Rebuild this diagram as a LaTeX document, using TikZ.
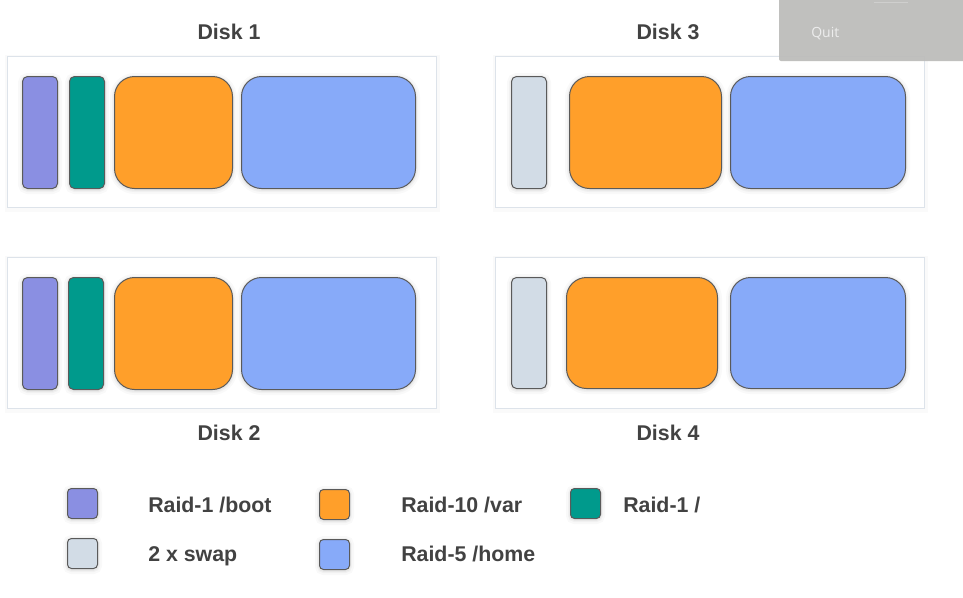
\documentclass[tikz,border=0pt]{standalone}
\usepackage{fontspec}
\setmainfont{Liberation Sans}
\newfontfamily\quitfont{Open Sans}
\newdimen\pxu \pxu=0.75pt
\definecolor{bootc}{HTML}{8A8FE2}
\definecolor{rootc}{HTML}{009A8C}
\definecolor{varc}{HTML}{FF9F2A}
\definecolor{homec}{HTML}{87AAF9}
\definecolor{swapc}{HTML}{D2DCE6}
\definecolor{edgec}{HTML}{5A5A5A}
\definecolor{framec}{HTML}{DDE3EA}
\definecolor{txtc}{HTML}{424242}
\definecolor{quitc}{HTML}{BCBCBA}
\tikzset{
  % soft halo drawn under a shape, a few widening faint strokes
  softshadow/.style={
    preaction={draw=black, draw opacity=0.025, line width=9\pxu, transform canvas={yshift=-1\pxu}},
    preaction={draw=black, draw opacity=0.03, line width=5\pxu, transform canvas={yshift=-1\pxu}},
    preaction={draw=black, draw opacity=0.035, line width=2.5\pxu, transform canvas={yshift=-1\pxu}}},
  part/.style={draw=edgec, line width=1\pxu, anchor=north west, inner sep=0pt, softshadow},
  slim/.style={part, rounded corners=5\pxu, minimum width=35\pxu, minimum height=112\pxu},
  wide/.style={part, rounded corners=20\pxu, minimum height=112\pxu},
  diskframe/.style={draw=framec, fill=white, line width=1\pxu, anchor=north west,
    inner sep=0pt, minimum width=429\pxu, minimum height=151\pxu,
    preaction={draw=black, draw opacity=0.02, line width=6\pxu, transform canvas={yshift=-1\pxu}}},
  disktitle/.style={anchor=base, inner sep=0pt, font=\bfseries\fontsize{16}{19}\selectfont, text=txtc},
  swatch/.style={part, rounded corners=4\pxu, minimum size=30\pxu},
  legendtext/.style={anchor=base west, inner sep=0pt, font=\bfseries\fontsize{16}{19}\selectfont, text=txtc},
}
\begin{document}
\begin{tikzpicture}[x=\pxu, y=-\pxu]
  \useasboundingbox (0,0) rectangle (963,597);
  \fill[white] (0,0) rectangle (963,597);

  % Disk 1
  \node[disktitle] (t1) at (229,39) {Disk 1};
  \node[diskframe] (d1) at (7,56) {};
  \node[slim, fill=bootc] (d1boot) at (22,76) {};
  \node[slim, fill=rootc] (d1root) at (69,76) {};
  \node[wide, fill=varc, minimum width=118\pxu] (d1var) at (114,76) {};
  \node[wide, fill=homec, minimum width=174\pxu] (d1home) at (241,76) {};

  % Disk 3
  \node[disktitle] (t3) at (668,39) {Disk 3};
  \node[diskframe] (d3) at (495,56) {};
  \node[slim, fill=swapc] (d3swap) at (511,76) {};
  \node[wide, fill=varc, minimum width=152\pxu] (d3var) at (569,76) {};
  \node[wide, fill=homec, minimum width=175\pxu] (d3home) at (730,76) {};

  % Disk 2
  \node[diskframe] (d2) at (7,257) {};
  \node[slim, fill=bootc] (d2boot) at (22,277) {};
  \node[slim, fill=rootc] (d2root) at (68,277) {};
  \node[wide, fill=varc, minimum width=118\pxu] (d2var) at (114,277) {};
  \node[wide, fill=homec, minimum width=174\pxu] (d2home) at (241,277) {};
  \node[disktitle] (t2) at (229,440) {Disk 2};

  % Disk 4
  \node[diskframe] (d4) at (495,257) {};
  \node[slim, fill=swapc, minimum height=111\pxu] (d4swap) at (511,277) {};
  \node[wide, fill=varc, minimum width=151\pxu, minimum height=111\pxu] (d4var) at (566,277) {};
  \node[wide, fill=homec, minimum width=175\pxu, minimum height=111\pxu] (d4home) at (730,277) {};
  \node[disktitle] (t4) at (668,440) {Disk 4};

  % Legend
  \node[swatch, fill=bootc] (lboot) at (67,488) {};
  \node[legendtext] (lboottxt) at (148,512) {Raid-1 /boot};
  \node[swatch, fill=varc] (lvar) at (319,489) {};
  \node[legendtext] (lvartxt) at (401,512) {Raid-10 /var};
  \node[swatch, fill=rootc] (lroot) at (570,488) {};
  \node[legendtext] (lroottxt) at (623,512) {Raid-1 /};
  \node[swatch, fill=swapc] (lswap) at (67,538) {};
  \node[legendtext] (lswaptxt) at (148,561) {2 x swap};
  \node[swatch, fill=homec] (lhome) at (319,539) {};
  \node[legendtext] (lhometxt) at (401,561) {Raid-5 /home};

  % Quit button
  \fill[quitc, fill opacity=0.93, rounded corners=2\pxu]
    (779,-5) -- (779,61) -- (970,61) -- (970,-5) -- cycle;
  \draw[white, opacity=0.25, line width=1\pxu] (874,2) -- (908,2);
  \node[anchor=base west, font=\quitfont\fontsize{10.5}{12}\selectfont,
    text=white!93!black, inner sep=0pt] (quit) at (811,37) {Quit};
\end{tikzpicture}
\end{document}
